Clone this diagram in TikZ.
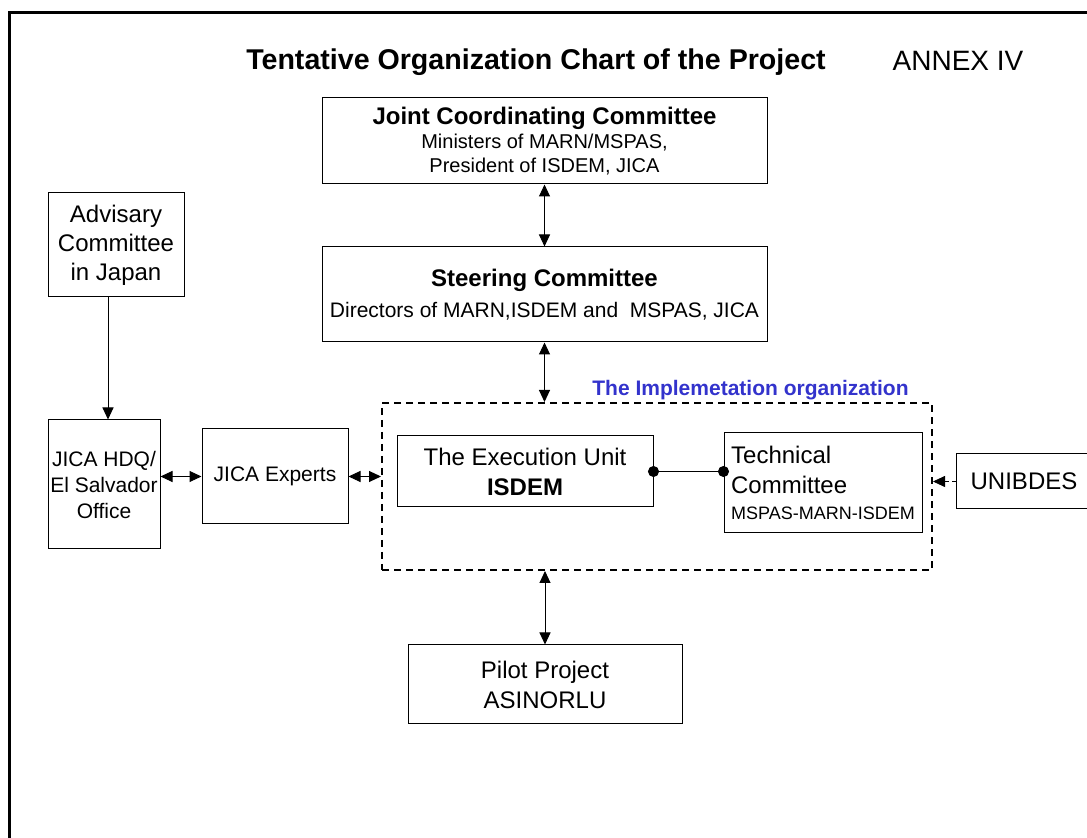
\documentclass[tikz,border=0pt]{standalone}
\usepackage{fontspec}
\setmainfont{Liberation Sans}
\usetikzlibrary{arrows.meta,calc}
\definecolor{implblue}{RGB}{51,51,204}
\newcommand{\fsz}[2]{\fontsize{#1}{#2}\selectfont}

\tikzset{
  box/.style={draw, line width=0.5pt, inner sep=0pt, align=center},
  txt/.style={inner sep=0pt},
  dbl/.style={{Triangle[length=6pt,width=5.5pt]}-{Triangle[length=6pt,width=5.5pt]}, line width=0.5pt},
  sgl/.style={-{Triangle[length=6pt,width=5.5pt]}, line width=0.5pt},
  dotline/.style={{Circle[length=5.5pt]}-{Circle[length=5.5pt]}, shorten <=-2.75pt, shorten >=-2.75pt, line width=0.5pt},
}

\begin{document}
\begin{tikzpicture}[x=0.5pt,y=-0.5pt]
    \useasboundingbox (0,0) rectangle (1087,838);
    \clip (0,0) rectangle (1087,838);
    \draw [line width=1.5pt] (9,850) -- (9,13) -- (1100,13);

    \node [txt] (title) at (536,62) {\fsz{14.3}{17}\bfseries Tentative Organization Chart of the Project};
    \node [txt] (annex) at (958,61) {\fsz{14}{17}ANNEX IV};

    \node [box, minimum width=222.5pt, minimum height=43pt, font=\fsz{10}{12}] (jcc) at (544.5,141)
        {{\fsz{12}{12}\bfseries Joint Coordinating Committee}\\Ministers of MARN/MSPAS,\\President of ISDEM, JICA};
    \node [box, minimum width=222.5pt, minimum height=47.5pt, font=\fsz{10.5}{15.5}] (steer) at (544.5,294.5)
        {{\fsz{12}{15.5}\bfseries Steering Committee}\\Directors of MARN,ISDEM and\ \ MSPAS, JICA};
    \node [box, minimum width=68pt, minimum height=52pt, font=\fsz{12}{14.5}] (adv) at (116,245)
        {Advisary\\Committee\\in Japan};
    \node [box, minimum width=56pt, minimum height=64.5pt, font=\fsz{10.5}{13}] (hdq) at (104,484.5)
        {JICA HDQ/\\El Salvador\\Office};
    \node [box, minimum width=73pt, minimum height=47.5pt, font=\fsz{10.5}{13}] (exp) at (275,476.5)
        {JICA Experts};

    \node [box, dashed, dash pattern=on 3.5pt off 2.5pt, line width=1pt, minimum width=275pt, minimum height=83.5pt] (impl) at (657,486.5) {};
    \node [txt, anchor=south east, text=implblue, font=\fsz{10.5}{12}\bfseries] (impltitle) at ($(impl.north east)+(-24,-2)$)
        {The Implemetation organization};
    \node [box, minimum width=128pt, minimum height=35.5pt, font=\fsz{12}{15}] (exec) at (525,471.5)
        {The Execution Unit\\\textbf{ISDEM}};
    \node [box, align=left, minimum width=99pt, minimum height=50pt, font=\fsz{12}{15}] (tech) at (823,483)
        {Technical\\Committee\\[-2pt]{\fsz{9}{13}MSPAS-MARN-ISDEM}};
    \node [box, minimum width=68pt, minimum height=27.5pt, font=\fsz{12}{14}] (unib) at (1024,481.5)
        {UNIBDES};
    \node [box, minimum width=137pt, minimum height=39.5pt, font=\fsz{12}{15}] (pilot) at (545,684.5)
        {Pilot Project\\ASINORLU};

    \draw [dbl] (jcc.south) -- (steer.north);
    \draw [dbl] (steer.south) -- (steer.south |- impl.north);
    \draw [dbl] (pilot.north) -- (pilot.north |- impl.south);
    \draw [sgl] ([xshift=-4pt]adv.south) -- ([xshift=2pt]hdq.north);
    \draw [dbl] (exp.west -| hdq.east) -- (exp.west);
    \draw [dbl] (exp.east) -- (exp.east -| impl.west);
    \draw [sgl, dashed, dash pattern=on 2pt off 1.5pt, line width=0.4pt] (unib.west) -- (unib.west -| impl.east);
    \draw [dotline] (exec.east) -- (exec.east -| tech.west);
\end{tikzpicture}
\end{document}
